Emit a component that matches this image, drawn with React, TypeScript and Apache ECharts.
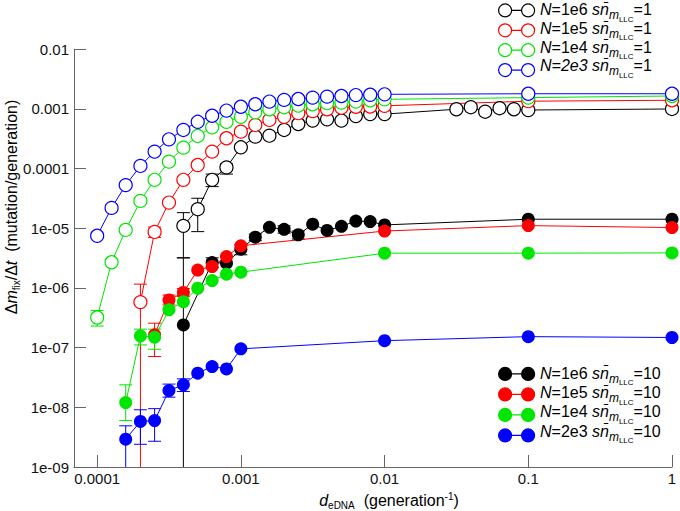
import React, { useEffect, useRef } from 'react';
import * as echarts from 'echarts';

// ---------- axes ----------
const xTickValues = [0.0001, 0.001, 0.01, 0.1, 1];
const xTickLabels = ['0.0001', '0.001', '0.01', '0.1', '1'];
const yTickValues = [1e-9, 1e-8, 1e-7, 1e-6, 1e-5, 1e-4, 1e-3, 1e-2];
const yTickLabels = ['1e-09', '1e-08', '1e-07', '1e-06', '1e-05', '0.0001', '0.001', '0.01'];
const xRange = [6.9e-5, 1];
const yRange = [1e-9, 0.01];

// ---------- groups ----------
const populations = ['1e6', '1e5', '1e4', '2e3'];
const colors = ['#000000', '#ff0000', '#00e600', '#0000ff'];

// ---------- s*nbar = 1 (open circles) ----------
const blackOpenX = [0.000398, 0.000501, 0.000631, 0.000794, 0.001, 0.00126, 0.00158, 0.002, 0.00251, 0.00316, 0.00398, 0.00501, 0.00631, 0.00794, 0.01, 0.0316, 0.0398, 0.0501, 0.0631, 0.0794, 0.1, 1];
const blackOpenY = [1.1e-5, 2.09e-5, 6.5e-5, 1.05e-4, 2.28e-4, 3.44e-4, 3.57e-4, 4.45e-4, 5.6e-4, 6.4e-4, 6.7e-4, 6.4e-4, 7.6e-4, 8.2e-4, 8.2e-4, 9.9e-4, 1.07e-3, 9.0e-4, 1.03e-3, 9.9e-4, 9.6e-4, 1.0e-3];
const blackOpenErr = [[0.000398, 3.2e-6, 1.83e-5], [0.000501, 8.8e-6, 3.19e-5], [0.000631, 5.0e-5, 8.1e-5], [0.000794, 8.1e-5, 1.2e-4]];

const redOpenX = [0.0002, 0.000251, 0.000316, 0.000398, 0.000501, 0.000631, 0.000794, 0.001, 0.00126, 0.00158, 0.002, 0.00251, 0.00316, 0.00398, 0.00501, 0.00631, 0.00794, 0.01, 0.1, 1];
const redOpenY = [5.8e-7, 8.7e-6, 2.7e-5, 6.5e-5, 1.15e-4, 1.93e-4, 3.23e-4, 4.17e-4, 5.4e-4, 6.55e-4, 7.4e-4, 8.5e-4, 9.2e-4, 9.9e-4, 1.05e-3, 1.09e-3, 1.1e-3, 1.13e-3, 1.35e-3, 1.4e-3];
const redOpenErr = [[0.0002, 1e-10, 1.16e-6], [0.000251, 7.0e-6, 1.05e-5]];

const greenOpenX = [0.0001, 0.000126, 0.000158, 0.0002, 0.000251, 0.000316, 0.000398, 0.000501, 0.000631, 0.000794, 0.001, 0.00126, 0.00158, 0.002, 0.00251, 0.00316, 0.00398, 0.00501, 0.00631, 0.00794, 0.01, 0.1, 1];
const greenOpenY = [3.2e-7, 2.7e-6, 9.4e-6, 2.88e-5, 6.5e-5, 1.31e-4, 2.25e-4, 3.53e-4, 4.93e-4, 6.1e-4, 7.4e-4, 8.8e-4, 9.9e-4, 1.07e-3, 1.14e-3, 1.2e-3, 1.25e-3, 1.28e-3, 1.33e-3, 1.4e-3, 1.45e-3, 1.55e-3, 1.65e-3];
const greenOpenErr = [[0.0001, 2.3e-7, 4.2e-7]];

const blueOpenX = [0.0001, 0.000126, 0.000158, 0.0002, 0.000251, 0.000316, 0.000398, 0.000501, 0.000631, 0.000794, 0.001, 0.00126, 0.00158, 0.002, 0.00251, 0.00316, 0.00398, 0.00501, 0.00631, 0.00794, 0.01, 0.1, 1];
const blueOpenY = [7.5e-6, 2.2e-5, 5.3e-5, 1.11e-4, 1.93e-4, 3.1e-4, 4.45e-4, 6.1e-4, 7.7e-4, 9.4e-4, 1.09e-3, 1.2e-3, 1.33e-3, 1.42e-3, 1.47e-3, 1.55e-3, 1.61e-3, 1.65e-3, 1.71e-3, 1.73e-3, 1.76e-3, 1.8e-3, 1.8e-3];
const blueOpenErr: number[][] = [];

// ---------- s*nbar = 10 (filled circles) ----------
const blackFilledX = [0.000398, 0.000631, 0.000794, 0.001, 0.00126, 0.00158, 0.002, 0.00251, 0.00316, 0.00398, 0.00501, 0.00631, 0.00794, 0.01, 0.1, 1];
const blackFilledY = [2.4e-7, 2.67e-6, 2.6e-6, 4.47e-6, 7.1e-6, 1.04e-5, 9.6e-6, 7.8e-6, 1.17e-5, 9.2e-6, 1.08e-5, 1.32e-5, 1.3e-5, 1.14e-5, 1.42e-5, 1.42e-5];
const blackFilledErr = [[0.000398, 1e-10, 3.2e-6], [0.000631, 2.2e-6, 3.2e-6], [0.001, 3.6e-6, 5.3e-6], [0.00126, 6.2e-6, 8.0e-6], [0.002, 8.3e-6, 1.1e-5], [0.00251, 6.6e-6, 9.0e-6]];

const redFilledX = [0.000251, 0.000316, 0.000398, 0.000501, 0.000631, 0.000794, 0.001, 0.01, 0.1, 1];
const redFilledY = [1.64e-7, 6.3e-7, 8.4e-7, 2.0e-6, 2.29e-6, 3.36e-6, 5.1e-6, 9.0e-6, 1.11e-5, 1.03e-5];
const redFilledErr = [[0.000251, 7.1e-8, 2.57e-7], [0.000316, 5.2e-7, 7.6e-7], [0.000398, 7.2e-7, 9.8e-7]];

const greenFilledX = [0.000158, 0.0002, 0.000251, 0.000316, 0.000398, 0.000501, 0.000631, 0.000794, 0.001, 0.01, 0.1, 1];
const greenFilledY = [1.2e-8, 1.57e-7, 1.5e-7, 4.3e-7, 5.9e-7, 9.9e-7, 1.33e-6, 1.7e-6, 1.84e-6, 3.83e-6, 3.83e-6, 3.87e-6];
const greenFilledErr = [[0.000158, 6e-9, 2.38e-8], [0.0002, 1.11e-7, 2.04e-7], [0.000251, 9.4e-8, 2.04e-7]];

const blueFilledX = [0.000158, 0.0002, 0.000251, 0.000316, 0.000398, 0.000501, 0.000631, 0.000794, 0.001, 0.01, 0.1, 1];
const blueFilledY = [2.93e-9, 5.8e-9, 6.0e-9, 1.91e-8, 2.38e-8, 3.74e-8, 4.83e-8, 4.4e-8, 9.55e-8, 1.31e-7, 1.53e-7, 1.48e-7];
const blueFilledErr = [[0.000158, 1e-10, 4.9e-9], [0.0002, 2.4e-9, 9.1e-9], [0.000251, 2.7e-9, 9.5e-9], [0.000316, 1.48e-8, 2.45e-8], [0.000398, 1.84e-8, 3.0e-8]];

const FONT = '"Liberation Sans", Arial, sans-serif';
const L = (v: number) => Math.log10(v);

const openSets = [
  { x: blackOpenX, y: blackOpenY, err: blackOpenErr },
  { x: redOpenX, y: redOpenY, err: redOpenErr },
  { x: greenOpenX, y: greenOpenY, err: greenOpenErr },
  { x: blueOpenX, y: blueOpenY, err: blueOpenErr },
];
const filledSets = [
  { x: blackFilledX, y: blackFilledY, err: blackFilledErr },
  { x: redFilledX, y: redFilledY, err: redFilledErr },
  { x: greenFilledX, y: greenFilledY, err: greenFilledErr },
  { x: blueFilledX, y: blueFilledY, err: blueFilledErr },
];

const openNames = populations.map((p) => `N=${p} s=1`);
const filledNames = populations.map((p) => `N=${p} s=10`);

const ICON = 'path://M0,6.5 A6.5,6.5 0 1,1 13,6.5 A6.5,6.5 0 1,1 0,6.5 Z M13,6.5 L23,6.5 M23,6.5 A6.5,6.5 0 1,1 36,6.5 A6.5,6.5 0 1,1 23,6.5 Z';

// rich-text tokens: all share a line height and are centred; padding-top p shifts a token down by p/2,
// padding-bottom p shifts it up by p/2.
const tok = (fontSize: number, lineHeight: number, italic: boolean, padding: number[]) => ({
  fontSize,
  fontFamily: FONT,
  fill: '#000',
  lineHeight,
  verticalAlign: 'middle',
  fontStyle: italic ? 'italic' : 'normal',
  padding,
});

const legendRich = {
  r: tok(16, 20, false, [0, 0, 0, 0]),
  i: tok(16, 20, true, [0, 0, 0, 0]),
  m: tok(12, 20, true, [10.8, 0, 0, 0]),
  l: tok(8, 20, false, [18.9, 0, 0, 0]),
};

const titleRich = {
  r: tok(16, 20, false, [0, 0, 0, 0]),
  i: tok(16, 20, true, [0, 0, 0, 0]),
  s: tok(10, 20, false, [10, 0, 0, 0]),
  p: tok(10, 20, false, [0, 0, 8, 0]),
};

function legendText(name: string) {
  const filled = name.endsWith('s=10');
  const pop = name.slice(2, name.indexOf(' '));
  const val = filled ? '10' : '1';
  const head = !filled && pop === '2e3' ? `{i|N=2e3 sn̄}` : `{i|N}{r|=${pop} }{i|sn̄}`;
  return `${head}{m|m}{l|LLC}{r|=${val}}`;
}

// legend rows (row centres in pixels)
const openRowY = [9.8, 28.5, 47.2, 65.9];
const filledRowY = [373.3, 392.6, 411.9, 431.2];
const LEGEND_ICON_X = 498;
const LEGEND_TEXT_X = 540;

function errRender(color: string) {
  return (params: any, api: any) => {
    const x = api.value(0);
    const lo = api.value(1);
    const hi = api.value(2);
    const pHi = api.coord([x, hi]);
    const pLo = api.coord([x, lo]);
    const cs = params.coordSys;
    const bottom = cs.y + cs.height;
    const clipped = pLo[1] > bottom;
    const yLo = clipped ? bottom : pLo[1];
    const hw = 6.5;
    const st = { stroke: color, lineWidth: 1, fill: 'none' };
    const children: any[] = [
      { type: 'line', shape: { x1: pHi[0], y1: pHi[1], x2: pHi[0], y2: yLo }, style: st },
      { type: 'line', shape: { x1: pHi[0] - hw, y1: pHi[1], x2: pHi[0] + hw, y2: pHi[1] }, style: st },
    ];
    if (!clipped) {
      children.push({ type: 'line', shape: { x1: pLo[0] - hw, y1: pLo[1], x2: pLo[0] + hw, y2: pLo[1] }, style: st });
    }
    return { type: 'group', children };
  };
}

export default function App() {
  const ref = useRef<HTMLDivElement>(null);

  useEffect(() => {
    document.body.style.margin = '0';
    if (!ref.current) return;
    const chart = echarts.init(ref.current, undefined, { renderer: 'svg' });

    const xPos = xTickValues.map((v) => Math.round(L(v)));
    const yPos = yTickValues.map((v) => Math.round(L(v)));

    const series: any[] = [];
    const addGroup = (sets: any[], names: string[], open: boolean) => {
      sets.forEach((s, i) => {
        series.push({
          type: 'custom',
          name: names[i] + ' err',
          data: s.err.map((e: number[]) => [L(e[0]), L(e[1]), L(e[2])]),
          encode: { x: 0, y: [1, 2] },
          renderItem: errRender(colors[i]),
          z: 2,
          silent: true,
        });
      });
      sets.forEach((s, i) => {
        series.push({
          type: 'line',
          name: names[i],
          data: s.x.map((x: number, k: number) => [L(x), L(s.y[k])]),
          symbol: 'circle',
          symbolSize: 13,
          showSymbol: true,
          showAllSymbol: true,
          lineStyle: { color: colors[i], width: 1 },
          itemStyle: open
            ? { color: '#ffffff', borderColor: colors[i], borderWidth: 1.2 }
            : { color: colors[i], borderWidth: 0 },
          emphasis: { disabled: true },
          silent: true,
          z: 3,
        });
      });
    };
    addGroup(openSets, openNames, true);
    addGroup(filledSets, filledNames, false);

    const legendBase = {
      orient: 'vertical',
      left: LEGEND_ICON_X,
      padding: 0,
      itemWidth: 36,
      itemHeight: 13,
      icon: ICON,
      selectedMode: false,
      formatter: () => '',
      textStyle: { fontSize: 1, padding: 0 },
    };

    const legendLabels: any[] = [];
    openNames.forEach((n, i) => {
      legendLabels.push({
        type: 'text', x: LEGEND_TEXT_X, y: openRowY[i], silent: true,
        style: { text: legendText(n), rich: legendRich, align: 'left', verticalAlign: 'middle' },
      });
    });
    filledNames.forEach((n, i) => {
      legendLabels.push({
        type: 'text', x: LEGEND_TEXT_X, y: filledRowY[i], silent: true,
        style: { text: legendText(n), rich: legendRich, align: 'left', verticalAlign: 'middle' },
      });
    });

    chart.setOption({
      animation: false,
      backgroundColor: '#ffffff',
      grid: { left: 74, right: 8, top: 49.3, bottom: 44, containLabel: false, outerBoundsMode: 'none' },
      legend: [
        {
          ...legendBase,
          top: openRowY[0] - 6.5,
          itemGap: openRowY[1] - openRowY[0] - 13,
          data: openNames.map((n, i) => ({
            name: n,
            itemStyle: { color: '#ffffff', borderColor: colors[i], borderWidth: 1.2 },
          })),
        },
        {
          ...legendBase,
          top: filledRowY[0] - 6.5,
          itemGap: filledRowY[1] - filledRowY[0] - 13,
          data: filledNames.map((n, i) => ({
            name: n,
            itemStyle: { color: colors[i], borderColor: colors[i], borderWidth: 1.2 },
          })),
        },
      ],
      xAxis: {
        type: 'value',
        min: L(xRange[0]),
        max: L(xRange[1]),
        axisLine: { show: true, onZero: false, lineStyle: { color: '#666', width: 1 } },
        axisTick: { show: true, inside: true, length: 12, customValues: xPos, lineStyle: { color: '#666', width: 1 } },
        axisLabel: {
          customValues: xPos,
          formatter: (v: number) => xTickLabels[xPos.indexOf(Math.round(v))] ?? '',
          fontSize: 15,
          fontFamily: FONT,
          color: '#111',
          margin: 4,
        },
        splitLine: { show: false },
      },
      yAxis: {
        type: 'value',
        min: L(yRange[0]),
        max: Math.round(L(yRange[1])),
        axisLine: { show: true, onZero: false, lineStyle: { color: '#666', width: 1 } },
        axisTick: { show: true, inside: true, length: 12, customValues: yPos, lineStyle: { color: '#666', width: 1 } },
        axisLabel: {
          customValues: yPos,
          formatter: (v: number) => yTickLabels[yPos.indexOf(Math.round(v))] ?? '',
          fontSize: 15,
          fontFamily: FONT,
          color: '#111',
          margin: 5,
        },
        splitLine: { show: false },
      },
      graphic: [
        {
          type: 'text',
          x: 389,
          y: 500,
          silent: true,
          style: {
            text: '{i|d}{s|eDNA}{r|  (generation}{p|-1}{r|)}',
            rich: titleRich,
            align: 'center',
            verticalAlign: 'middle',
          },
        },
        {
          type: 'text',
          x: 11,
          y: 207,
          rotation: Math.PI / 2,
          silent: true,
          style: {
            text: '{r|Δ}{i|m}{s|fix}{r|/Δ}{i|t}{r|  (mutation/generation)}',
            rich: titleRich,
            align: 'center',
            verticalAlign: 'middle',
          },
        },
        ...legendLabels,
      ],
      series,
    });

    return () => chart.dispose();
  }, []);

  return <div ref={ref} style={{ width: 680, height: 511 }} />;
}
